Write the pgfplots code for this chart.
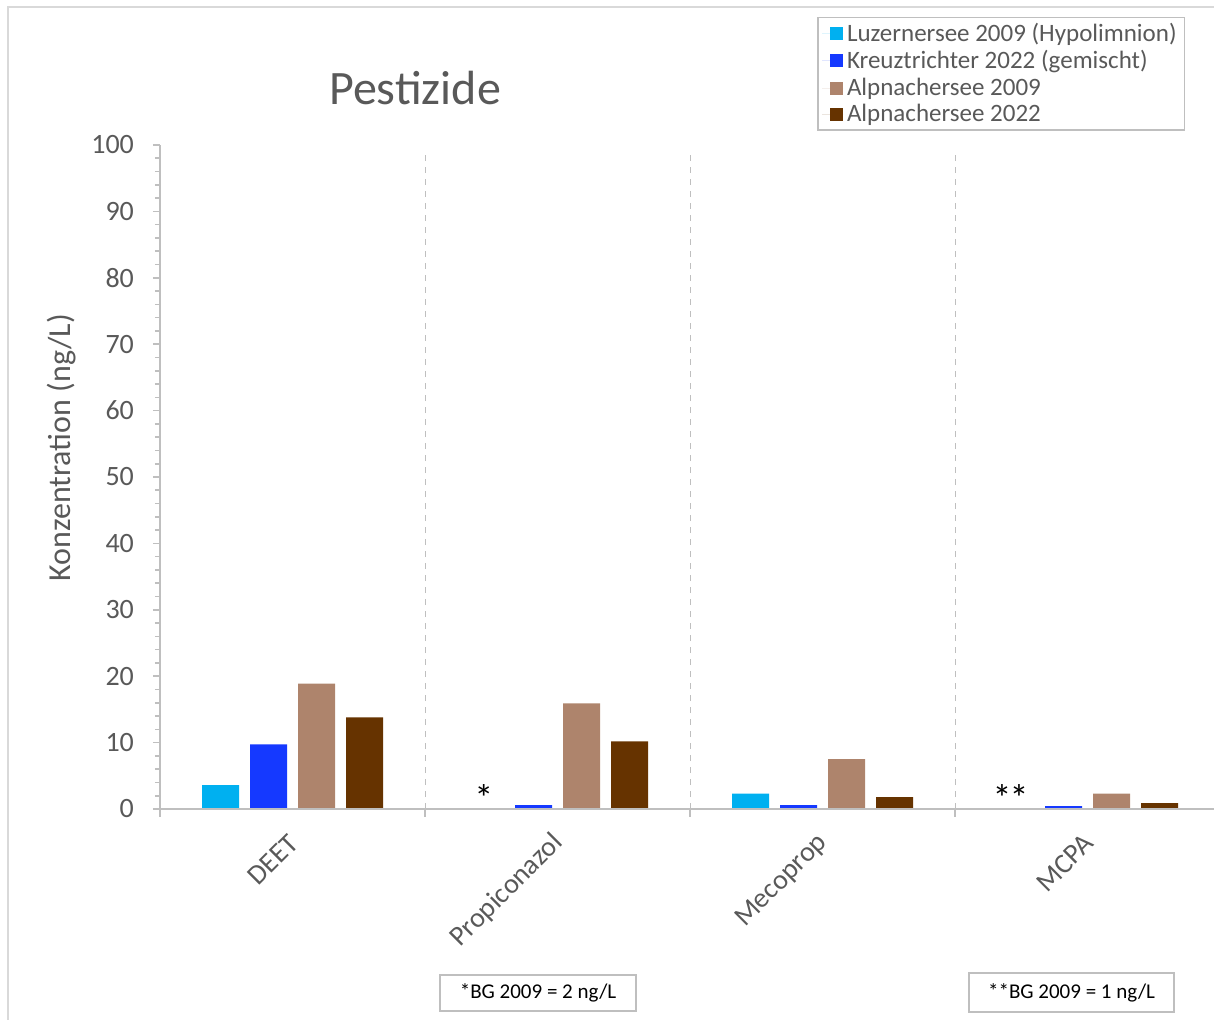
\documentclass[border=0pt]{standalone}
\usepackage{pgfplots}
\pgfplotsset{compat=1.18}
\usepackage{fontspec}
\setmainfont{Carlito}
\definecolor{cLuz}{HTML}{00B0F0}
\definecolor{cKreuz}{HTML}{1539FF}
\definecolor{cAlp09}{HTML}{AE846C}
\definecolor{cAlp22}{HTML}{663300}
\definecolor{txt}{HTML}{595959}
\definecolor{axc}{HTML}{BFBFBF}
\definecolor{frm}{HTML}{D9D9D9}
\begin{document}
\begin{tikzpicture}
\useasboundingbox (0,0) rectangle (607pt,509.5pt);
\draw[frm, line width=1pt] (4pt,-10pt) -- (4pt,506pt) -- (620pt,506pt);
\begin{axis}[
  at={(80pt,105pt)}, anchor=south west,
  scale only axis, width=530pt, height=332pt,
  xmin=-0.5, xmax=3.5, ymin=0, ymax=100,
  axis lines*=left,
  axis line style={axc, line width=0.8pt},
  ybar=5.5pt, bar width=18.5pt,
  xtick={0,1,2,3},
  xticklabels={DEET,Propiconazol,Mecoprop,MCPA},
  x tick style={draw=none},
  xticklabel style={xshift=3pt, yshift=-9pt, rotate=45, anchor=east, font=\fontsize{14}{16}\selectfont, text=txt},
  ytick={0,10,...,100},
  minor y tick num=4,
  tick align=outside,
  ytick pos=left,
  y tick style={axc, line width=0.8pt},
  major tick length=3.5pt, minor tick length=2.5pt,
  yticklabel style={font=\fontsize{14}{16}\selectfont, text=txt, xshift=-6pt},
  /pgf/number format/assume math mode=true,
  ylabel={Konzentration (ng/L)},
  ylabel style={at={(axis description cs:-0.0925,0.544)}, anchor=center, font=\fontsize{16}{18}\selectfont, text=txt},
  legend style={at={(axis description cs:0.62,1.193)}, anchor=north west, draw=axc, line width=0.8pt, font=\fontsize{12.5}{14}\selectfont, text=txt, row sep=-0.9pt, inner xsep=2pt, inner ysep=0.6pt},
  legend cell align=left,
  legend image code/.code={\path (0pt,0pt) -- (10.5pt,0pt); \fill[#1] (4pt,-3.25pt) rectangle (10.5pt,3.25pt);},
  clip=false,
]
\addplot[fill=cLuz, draw=none] coordinates {(0,3.6) (2,2.3)};
\addplot[fill=cKreuz, draw=none] coordinates {(0,9.75) (1,0.6) (2,0.6) (3,0.45)};
\addplot[fill=cAlp09, draw=none] coordinates {(0,18.9) (1,15.9) (2,7.5) (3,2.3)};
\addplot[fill=cAlp22, draw=none] coordinates {(0,13.8) (1,10.2) (2,1.8) (3,0.9)};
\legend{Luzernersee 2009 (Hypolimnion),Kreuztrichter 2022 (gemischt),Alpnachersee 2009,Alpnachersee 2022}
\draw[axc, dashed, line width=0.5pt] (axis cs:0.5,0) -- (axis cs:0.5,99);
\draw[axc, dashed, line width=0.5pt] (axis cs:1.5,0) -- (axis cs:1.5,99);
\draw[axc, dashed, line width=0.5pt] (axis cs:2.5,0) -- (axis cs:2.5,99);
\draw[axc, line width=0.8pt] (axis cs:-0.5,0) -- ([yshift=-4pt]axis cs:-0.5,0);
\draw[axc, line width=0.8pt] (axis cs:0.5,0) -- ([yshift=-4pt]axis cs:0.5,0);
\draw[axc, line width=0.8pt] (axis cs:1.5,0) -- ([yshift=-4pt]axis cs:1.5,0);
\draw[axc, line width=0.8pt] (axis cs:2.5,0) -- ([yshift=-4pt]axis cs:2.5,0);
\draw[axc, line width=0.8pt] (axis cs:-0.5,0) -- (axis cs:3.5,0);
\node[font=\fontsize{19}{20}\selectfont, inner sep=0pt] at (axis cs:0.722,1.6) {*};
\node[font=\fontsize{19}{20}\selectfont, inner sep=0pt] at (axis cs:2.71,1.6) {*\kern-1pt*};
\node[font=\fontsize{24}{28}\selectfont, text=txt] at (axis description cs:0.2406,1.086) {Pestizide};
\end{axis}
\node[draw=axc, line width=0.8pt, minimum width=98pt, minimum height=18pt, font=\fontsize{10.5}{12}\selectfont, inner sep=0pt] at (269pt,13pt) {*BG 2009 = 2 ng/L};
\node[draw=axc, line width=0.8pt, minimum width=102.5pt, minimum height=19.5pt, font=\fontsize{10.5}{12}\selectfont, inner sep=0pt] at (535.75pt,13.25pt) {**BG 2009 = 1 ng/L};
\end{tikzpicture}
\end{document}
